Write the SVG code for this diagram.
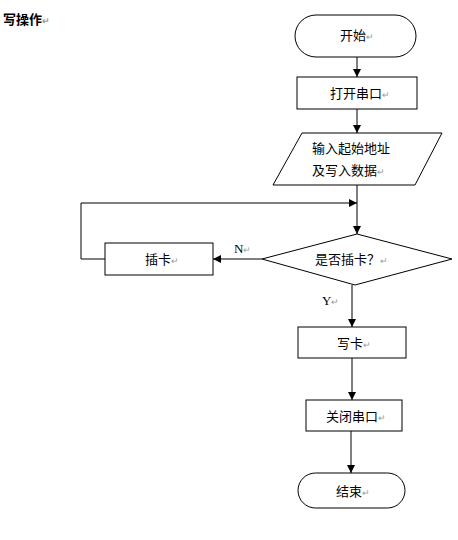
<svg xmlns="http://www.w3.org/2000/svg" width="458" height="540" viewBox="0 0 458 540">
<defs>
<marker id="ah" markerWidth="10" markerHeight="10" refX="9" refY="5" orient="auto" markerUnits="userSpaceOnUse">
<path d="M1,1 L9,5 L1,9 Z" fill="#000"/>
</marker>
<style>
.s{fill:#fff;stroke:#000;stroke-width:1}
.t{font-family:"Noto Sans CJK SC","Liberation Sans",sans-serif;font-size:13px;fill:#000}
.m{fill:#999;font-size:9px}
.l{font-family:"Liberation Serif",serif;font-size:13px;fill:#000}
.c{fill:none;stroke:#000;stroke-width:1}
</style>
</defs>
<rect width="458" height="540" fill="#fff"/>
<text x="3" y="24" class="t" style="font-weight:bold">写操作<tspan class="m">↵</tspan></text>
<g id="connectors">
<line x1="357" y1="57" x2="357" y2="77" class="c" marker-end="url(#ah)"/>
<line x1="357" y1="109" x2="357" y2="133" class="c" marker-end="url(#ah)"/>
<line x1="357" y1="185" x2="357" y2="234" class="c" marker-end="url(#ah)"/>
<polyline points="105,259 81,259 81,203 357,203" class="c" marker-end="url(#ah)"/>
<line x1="262" y1="259" x2="213" y2="259" class="c" marker-end="url(#ah)"/>
<line x1="352" y1="285" x2="352" y2="327" class="c" marker-end="url(#ah)"/>
<line x1="352" y1="358" x2="352" y2="400" class="c" marker-end="url(#ah)"/>
<line x1="351" y1="431" x2="351" y2="473" class="c" marker-end="url(#ah)"/>
<text x="234" y="253" class="l">N<tspan class="m">↵</tspan></text>
<text x="322" y="305" class="l">Y<tspan class="m">↵</tspan></text>
</g>
<g id="start">
<rect x="295" y="15" width="121" height="42" rx="21" class="s"/>
<text x="340" y="40" class="t">开始<tspan class="m">↵</tspan></text>
</g>
<g id="open">
<rect x="297" y="77" width="120" height="32" class="s"/>
<text x="330" y="98" class="t">打开串口<tspan class="m">↵</tspan></text>
</g>
<g id="input">
<polygon points="302,133 442,133 415,185 273,185" class="s"/>
<text x="312" y="153" class="t">输入起始地址</text>
<text x="312" y="175" class="t">及写入数据<tspan class="m">↵</tspan></text>
</g>
<g id="decision">
<polygon points="357,234 452,259 355,285 262,259" class="s"/>
<text x="315" y="264" class="t">是否插卡？<tspan class="m">↵</tspan></text>
</g>
<g id="insert">
<rect x="105" y="243" width="108" height="32" class="s"/>
<text x="145" y="264" class="t">插卡<tspan class="m">↵</tspan></text>
</g>
<g id="write">
<rect x="298" y="327" width="108" height="31" class="s"/>
<text x="337" y="348" class="t">写卡<tspan class="m">↵</tspan></text>
</g>
<g id="close">
<rect x="306" y="400" width="96" height="31" class="s"/>
<text x="326" y="421" class="t">关闭串口<tspan class="m">↵</tspan></text>
</g>
<g id="end">
<rect x="298" y="473" width="107" height="35" rx="17.5" class="s"/>
<text x="336" y="496" class="t">结束<tspan class="m">↵</tspan></text>
</g>
</svg>
